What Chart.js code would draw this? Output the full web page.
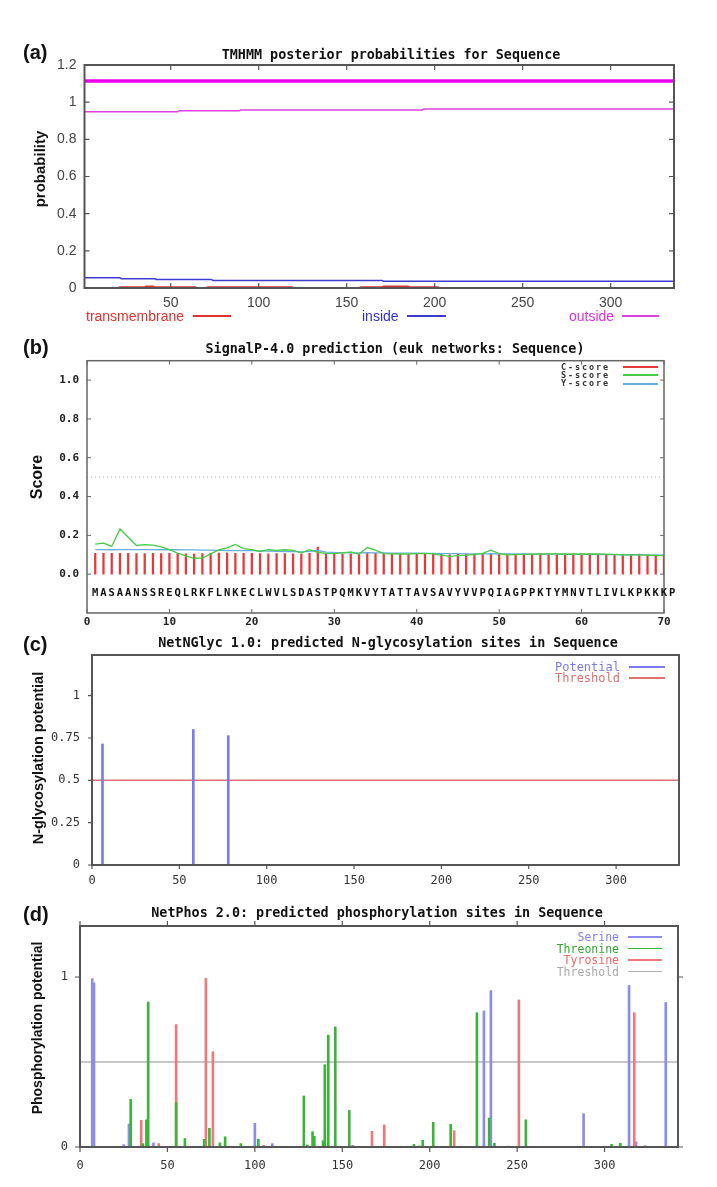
<!DOCTYPE html>
<html>
<head>
<meta charset="utf-8">
<script src="https://cdn.jsdelivr.net/npm/chart.js@4.4.1/dist/chart.umd.min.js"></script>
<style>
    body { margin: 0; background: #fff; width: 717px; height: 1187px; position: relative; overflow: hidden; font-family: "Liberation Sans", Arial, sans-serif; }
    canvas { position: absolute; left: 0; }
    .t { position: absolute; white-space: nowrap; line-height: 1; }
    .ttl { font: bold 13.4px "DejaVu Sans Mono", monospace; color: #111; transform: translate(-50%, -50%); }
    .lett { font: bold 20px "Liberation Sans", Arial, sans-serif; color: #111; left: 23px; transform: translateY(-50%); }
    .ylab { font: bold 15px "Liberation Sans", Arial, sans-serif; color: #111; transform: translate(-50%, -50%) rotate(-90deg); }
    .ln { position: absolute; height: 1.5px; }
    .legR { text-align: right; transform: translateY(-50%); }
    .legB { font: bold 8.5px "DejaVu Sans Mono", monospace; letter-spacing: 1.9px; color: #333; }
</style>
</head>
<body>
<canvas id="chartA" width="717" height="290" style="top:30px"></canvas>
<canvas id="chartB" width="717" height="300" style="top:330px"></canvas>
<canvas id="chartC" width="717" height="260" style="top:630px"></canvas>
<canvas id="chartD" width="717" height="297" style="top:890px"></canvas>

<!-- panel letters and titles -->
<div class="t lett" style="top:52px">(a)</div>
<div class="t lett" style="top:347px">(b)</div>
<div class="t lett" style="top:644px">(c)</div>
<div class="t lett" style="top:914px">(d)</div>

<div class="t ttl" style="left:391px;top:54px">TMHMM posterior probabilities for Sequence</div>
<div class="t ttl" style="left:395px;top:348px">SignalP-4.0 prediction (euk networks: Sequence)</div>
<div class="t ttl" style="left:388px;top:642px">NetNGlyc 1.0: predicted N-glycosylation sites in Sequence</div>
<div class="t ttl" style="left:377px;top:912px">NetPhos 2.0: predicted phosphorylation sites in Sequence</div>

<div class="t ylab" style="left:39px;top:169px">probability</div>
<div class="t ylab" style="left:37px;top:477px;font-size:16px">Score</div>
<div class="t ylab" style="left:38px;top:758px;font-size:14.5px">N-glycosylation potential</div>
<div class="t ylab" style="left:37px;top:1028px;font-size:14px">Phosphorylation potential</div>

<!-- legend (a) -->
<div class="t" style="left:86px;top:309px;font-size:14px;color:#e03030">transmembrane</div>
<div class="ln" style="left:193px;top:315px;width:38px;background:#e03030"></div>
<div class="t" style="left:362px;top:309px;font-size:14px;color:#3030d0">inside</div>
<div class="ln" style="left:407px;top:315px;width:39px;background:#3c3cd0"></div>
<div class="t" style="left:569px;top:309px;font-size:14px;color:#e030e0">outside</div>
<div class="ln" style="left:622px;top:315px;width:37px;background:#e040e0"></div>

<!-- legend (b) -->
<div class="t legR legB" style="right:107px;top:366.5px">C-score</div>
<div class="ln" style="left:623px;top:366px;width:35px;background:#e83838"></div>
<div class="t legR legB" style="right:107px;top:374.8px">S-score</div>
<div class="ln" style="left:623px;top:374.3px;width:35px;background:#44cc44"></div>
<div class="t legR legB" style="right:107px;top:383px">Y-score</div>
<div class="ln" style="left:623px;top:382.5px;width:35px;height:2px;background:#6aaee0"></div>

<!-- legend (c) -->
<div class="t legR" style="right:97px;top:667px;font:12px 'DejaVu Sans Mono',monospace;color:#7a7af0">Potential</div>
<div class="ln" style="left:629px;top:666px;width:36px;background:#7a7af0"></div>
<div class="t legR" style="right:97px;top:678px;font:12px 'DejaVu Sans Mono',monospace;color:#e07070">Threshold</div>
<div class="ln" style="left:629px;top:677px;width:36px;background:#e07070"></div>

<!-- legend (d) -->
<div class="t legR" style="right:98px;top:937px;font:11.5px 'DejaVu Sans Mono',monospace;color:#8080f0">Serine</div>
<div class="ln" style="left:628px;top:936px;width:34px;background:#8c8cf0"></div>
<div class="t legR" style="right:98px;top:948.5px;font:11.5px 'DejaVu Sans Mono',monospace;color:#30a830">Threonine</div>
<div class="ln" style="left:628px;top:947.5px;width:34px;background:#3cb43c"></div>
<div class="t legR" style="right:98px;top:960px;font:11.5px 'DejaVu Sans Mono',monospace;color:#f06868">Tyrosine</div>
<div class="ln" style="left:628px;top:959px;width:34px;background:#f07878"></div>
<div class="t legR" style="right:98px;top:971.5px;font:11.5px 'DejaVu Sans Mono',monospace;color:#aaa">Threshold</div>
<div class="ln" style="left:628px;top:970.5px;width:34px;background:#b4b4b4"></div>

<script>
// (a) TMHMM
const A_X_TICKS = [50, 100, 150, 200, 250, 300];
const A_Y_TICKS = [0, 0.2, 0.4, 0.6, 0.8, 1, 1.2];
const A_TOPO_X = [1, 336];
const A_TOPO_Y = [1.114, 1.114];
const A_OUT_X = [1, 54, 55, 89, 90, 193, 194, 336];
const A_OUT_Y = [0.948, 0.948, 0.954, 0.954, 0.958, 0.958, 0.963, 0.963];
const A_IN_X = [1, 21, 22, 41, 42, 73, 74, 170, 171, 336];
const A_IN_Y = [0.055, 0.055, 0.050, 0.050, 0.046, 0.046, 0.041, 0.041, 0.036, 0.036];
const A_TM_X = [1, 20, 21, 35, 36, 40, 41, 64, 65, 70, 71, 119, 120, 157, 158, 170, 171, 185, 186, 202, 203, 336];
const A_TM_Y = [0, 0, 0.005, 0.005, 0.009, 0.009, 0.005, 0.005, 0, 0, 0.005, 0.005, 0, 0, 0.005, 0.005, 0.009, 0.009, 0.005, 0.005, 0, 0];

// (b) SignalP, positions 1..70
const B_X_TICKS = [0, 10, 20, 30, 40, 50, 60, 70];
const B_Y_TICKS = [0, 0.2, 0.4, 0.6, 0.8, 1.0];
const B_SEQ = 'MASAANSSREQLRKFLNKECLWVLSDASTPQMKVYTATTAVSAVYVVPQIAGPPKTYMNVTLIVLKPKKKP'.split('');
const B_C_SCORE = [
    0.108, 0.107, 0.107, 0.108, 0.107, 0.106, 0.106, 0.107, 0.106, 0.108,
    0.107, 0.105, 0.104, 0.106, 0.108, 0.109, 0.110, 0.108, 0.108, 0.107,
    0.106, 0.105, 0.106, 0.106, 0.105, 0.104, 0.108, 0.140, 0.106, 0.104,
    0.104, 0.105, 0.103, 0.107, 0.108, 0.106, 0.104, 0.105, 0.103, 0.103,
    0.104, 0.108, 0.104, 0.100, 0.104, 0.105, 0.103, 0.104, 0.108, 0.104,
    0.102, 0.102, 0.103, 0.102, 0.101, 0.103, 0.102, 0.103, 0.102, 0.101,
    0.104, 0.103, 0.102, 0.101, 0.100, 0.101, 0.103, 0.100, 0.099, 0.100
];
const B_S_SCORE = [
    0.155, 0.160, 0.143, 0.233, 0.190, 0.148, 0.152, 0.150, 0.141, 0.127,
    0.108, 0.094, 0.082, 0.083, 0.105, 0.125, 0.136, 0.153, 0.132, 0.126,
    0.117, 0.126, 0.123, 0.126, 0.123, 0.110, 0.126, 0.112, 0.107, 0.106,
    0.110, 0.115, 0.103, 0.137, 0.124, 0.106, 0.105, 0.104, 0.103, 0.106,
    0.107, 0.105, 0.098, 0.092, 0.096, 0.098, 0.101, 0.107, 0.124, 0.106,
    0.100, 0.101, 0.102, 0.103, 0.104, 0.105, 0.105, 0.104, 0.105, 0.104,
    0.105, 0.104, 0.103, 0.102, 0.100, 0.100, 0.099, 0.098, 0.097, 0.096
];
const B_Y_SCORE = [
    0.127, 0.127, 0.126, 0.127, 0.127, 0.127, 0.127, 0.127, 0.126, 0.126,
    0.126, 0.125, 0.125, 0.124, 0.124, 0.123, 0.122, 0.121, 0.121, 0.121,
    0.120, 0.119, 0.118, 0.117, 0.116, 0.115, 0.118, 0.122, 0.114, 0.112,
    0.111, 0.110, 0.110, 0.111, 0.110, 0.110, 0.109, 0.109, 0.108, 0.108,
    0.107, 0.107, 0.106, 0.106, 0.106, 0.105, 0.105, 0.105, 0.106, 0.105,
    0.104, 0.104, 0.104, 0.103, 0.103, 0.103, 0.103, 0.102, 0.102, 0.102,
    0.102, 0.101, 0.101, 0.101, 0.100, 0.100, 0.099, 0.099, 0.098, 0.098
];
const B_CUTOFF = 0.5;

// (c) NetNGlyc
const C_X_TICKS = [0, 50, 100, 150, 200, 250, 300];
const C_Y_TICKS = [0, 0.25, 0.5, 0.75, 1];
const C_SITES = [6, 58, 78];
const C_POTENTIAL = [0.715, 0.80, 0.764];
const C_THRESHOLD = 0.5;

// (d) NetPhos
const D_X_TICKS = [0, 50, 100, 150, 200, 250, 300];
const D_Y_TICKS = [0, 1];
const D_SER_POS = [7, 8, 25, 28, 42, 100, 110, 156, 231, 235, 288, 314, 318, 335];
const D_SER_VAL = [0.99, 0.965, 0.014, 0.135, 0.024, 0.14, 0.02, 0.01, 0.80, 0.92, 0.196, 0.95, 0.03, 0.85];
const D_THR_POS = [29, 36, 38, 39, 55, 60, 71, 74, 80, 83, 92, 102, 128, 130, 133, 134, 139, 140, 142, 146, 154, 191, 194, 196, 202, 212, 227, 234, 237, 245, 255, 304, 309];
const D_THR_VAL = [0.28, 0.02, 0.16, 0.853, 0.263, 0.05, 0.045, 0.11, 0.024, 0.06, 0.02, 0.045, 0.30, 0.012, 0.09, 0.063, 0.037, 0.484, 0.658, 0.707, 0.215, 0.016, 0.006, 0.04, 0.145, 0.133, 0.79, 0.17, 0.022, 0.005, 0.16, 0.016, 0.022];
const D_TYR_POS = [35, 45, 55, 72, 76, 105, 167, 174, 214, 251, 317, 323];
const D_TYR_VAL = [0.157, 0.02, 0.72, 0.992, 0.56, 0.01, 0.092, 0.13, 0.096, 0.865, 0.79, 0.008];
const D_THRESHOLD = 0.5;

function zip(xs, ys) {
    return xs.map((x, i) => ({ x: x, y: ys[i] }));
}

function byPosition(vals) {
    return vals.map((v, i) => ({ x: i + 1, y: v }));
}

// gnuplot-like frame with small tick marks
const framePlugin = {
    id: 'frame',
    afterDatasetsDraw(chart, args, o) {
        const { ctx, chartArea: a, scales } = chart;
        const dir = o.inward ? 1 : -1;
        const L = o.tickLen;
        ctx.save();
        ctx.strokeStyle = o.color;
        ctx.lineWidth = o.width;
        ctx.strokeRect(a.left, a.top, a.right - a.left, a.bottom - a.top);
        ctx.lineWidth = o.tickWidth;
        ctx.beginPath();
        scales.x.ticks.forEach((t) => {
            const px = scales.x.getPixelForValue(t.value);
            ctx.moveTo(px, a.bottom);
            ctx.lineTo(px, a.bottom - dir * L);
            if (o.mirror) {
                ctx.moveTo(px, a.top);
                ctx.lineTo(px, a.top + dir * L);
            }
        });
        scales.y.ticks.forEach((t) => {
            const py = scales.y.getPixelForValue(t.value);
            ctx.moveTo(a.left, py);
            ctx.lineTo(a.left + dir * L, py);
            if (o.mirror) {
                ctx.moveTo(a.right, py);
                ctx.lineTo(a.right - dir * L, py);
            }
        });
        ctx.stroke();
        ctx.restore();
    }
};

// residue letters under the SignalP curves
const seqPlugin = {
    id: 'seqText',
    afterDatasetsDraw(chart, args, o) {
        if (!o.letters) {
            return;
        }
        const { ctx, scales } = chart;
        ctx.save();
        ctx.font = o.font;
        ctx.fillStyle = o.color;
        ctx.textAlign = 'center';
        ctx.textBaseline = 'middle';
        const py = scales.y.getPixelForValue(o.y);
        o.letters.forEach((ch, i) => {
            ctx.fillText(ch, scales.x.getPixelForValue(i + 1), py);
        });
        ctx.restore();
    }
};

function buildOptions(o) {
    return {
        responsive: false,
        animation: false,
        events: [],
        layout: { padding: { left: 0, right: o.padRight, top: o.padTop, bottom: o.padBottom } },
        plugins: {
            legend: { display: false },
            tooltip: { enabled: false },
            frame: o.frame,
            seqText: o.seq || {}
        },
        scales: {
            x: {
                type: 'linear',
                offset: false,
                min: o.xMin,
                max: o.xMax,
                grid: { display: false, drawTicks: false },
                border: { display: false },
                afterBuildTicks: (s) => { s.ticks = o.xTicks.map((v) => ({ value: v })); },
                afterFit: (s) => { s.height = o.xAxisH; },
                ticks: {
                    padding: o.xPad,
                    font: o.font,
                    color: o.tickColor,
                    maxRotation: 0,
                    autoSkip: false,
                    callback: (v) => String(v)
                }
            },
            y: {
                type: 'linear',
                min: o.yMin,
                max: o.yMax,
                grid: { display: false, drawTicks: false },
                border: { display: false },
                afterBuildTicks: (s) => { s.ticks = o.yTicks.map((v) => ({ value: v })); },
                afterFit: (s) => { s.width = o.yAxisW; },
                ticks: {
                    padding: o.yPad,
                    font: o.font,
                    color: o.tickColor,
                    autoSkip: false,
                    callback: o.yFmt
                }
            }
        }
    };
}

function lineSet(label, data, color, width, extra) {
    return Object.assign({
        type: 'line',
        label: label,
        data: data,
        borderColor: color,
        borderWidth: width,
        pointRadius: 0,
        fill: false,
        tension: 0
    }, extra || {});
}

function barSet(label, data, color, thickness, order) {
    return {
        type: 'bar',
        label: label,
        data: data,
        backgroundColor: color,
        borderWidth: 0,
        barThickness: thickness,
        grouped: false,
        order: order
    };
}

window.addEventListener('DOMContentLoaded', () => {
    const monoSmall = { family: 'DejaVu Sans Mono', size: 12 };

    new Chart(document.getElementById('chartA'), {
        type: 'line',
        data: {
            datasets: [
                lineSet('topology', zip(A_TOPO_X, A_TOPO_Y), '#ee00ee', 3.5),
                lineSet('outside', zip(A_OUT_X, A_OUT_Y), '#e040e0', 1.5),
                lineSet('inside', zip(A_IN_X, A_IN_Y), '#3c3cd0', 1.5),
                lineSet('transmembrane', zip(A_TM_X, A_TM_Y), '#e03030', 1.5)
            ]
        },
        options: buildOptions({
            padRight: 43, padTop: 35, padBottom: 8,
            xMin: 1, xMax: 336, yMin: 0, yMax: 1.2,
            xTicks: A_X_TICKS, yTicks: A_Y_TICKS,
            xAxisH: 24, yAxisW: 84.5, xPad: 7, yPad: 8,
            font: { family: 'Liberation Sans', size: 14 },
            tickColor: '#444',
            yFmt: (v) => String(Math.round(v * 10) / 10),
            frame: { color: '#555', width: 2, tickWidth: 1.2, tickLen: 5, inward: true, mirror: true }
        }),
        plugins: [framePlugin]
    });

    new Chart(document.getElementById('chartB'), {
        type: 'bar',
        data: {
            datasets: [
                lineSet('cutoff', zip([0, 70], [B_CUTOFF, B_CUTOFF]), '#c9a0dc', 1, { borderDash: [1, 3], order: 5 }),
                barSet('C-score', byPosition(B_C_SCORE), '#e83838', 1.6, 4),
                lineSet('Y-score', byPosition(B_Y_SCORE), '#6aaee0', 1.3, { order: 3 }),
                lineSet('S-score', byPosition(B_S_SCORE), '#44cc44', 1.3, { order: 2 })
            ]
        },
        options: buildOptions({
            padRight: 53, padTop: 30.7, padBottom: 0,
            xMin: 0, xMax: 70, yMin: -0.2, yMax: 1.1,
            xTicks: B_X_TICKS, yTicks: B_Y_TICKS,
            xAxisH: 17, yAxisW: 87, xPad: 3, yPad: 8,
            font: { family: 'DejaVu Sans Mono', size: 11, weight: 'bold' },
            tickColor: '#222',
            yFmt: (v) => v.toFixed(1),
            frame: { color: '#666', width: 1.5, tickWidth: 1, tickLen: 4, inward: true, mirror: true },
            seq: { letters: B_SEQ, y: -0.1, font: 'bold 10.5px "DejaVu Sans Mono"', color: '#111' }
        }),
        plugins: [framePlugin, seqPlugin]
    });

    new Chart(document.getElementById('chartC'), {
        type: 'bar',
        data: {
            datasets: [
                lineSet('Threshold', zip([0, 336], [C_THRESHOLD, C_THRESHOLD]), '#e07070', 1.5, { order: 5 }),
                barSet('Potential', zip(C_SITES, C_POTENTIAL), '#7a7af0', 2, 1)
            ]
        },
        options: buildOptions({
            padRight: 38, padTop: 25, padBottom: 0,
            xMin: 0, xMax: 336, yMin: 0, yMax: 1.24,
            xTicks: C_X_TICKS, yTicks: C_Y_TICKS,
            xAxisH: 25, yAxisW: 92, xPad: 9, yPad: 12,
            font: monoSmall,
            tickColor: '#333',
            yFmt: (v) => String(v),
            frame: { color: '#555', width: 2, tickWidth: 1.2, tickLen: 4, inward: false, mirror: false }
        }),
        plugins: [framePlugin]
    });

    new Chart(document.getElementById('chartD'), {
        type: 'bar',
        data: {
            datasets: [
                lineSet('Threshold', zip([0, 342], [D_THRESHOLD, D_THRESHOLD]), '#b4b4b4', 1.5, { order: 9 }),
                barSet('Serine', zip(D_SER_POS, D_SER_VAL), '#8c8cf0', 2, 3),
                barSet('Tyrosine', zip(D_TYR_POS, D_TYR_VAL), '#f07878', 2, 2),
                barSet('Threonine', zip(D_THR_POS, D_THR_VAL), '#3cb43c', 2, 1)
            ]
        },
        options: buildOptions({
            padRight: 39, padTop: 36, padBottom: 10,
            xMin: 0, xMax: 342, yMin: 0, yMax: 1.3,
            xTicks: D_X_TICKS, yTicks: D_Y_TICKS,
            xAxisH: 30, yAxisW: 80, xPad: 12, yPad: 12,
            font: monoSmall,
            tickColor: '#333',
            yFmt: (v) => String(v),
            frame: { color: '#555', width: 2, tickWidth: 1.2, tickLen: 5, inward: false, mirror: true }
        }),
        plugins: [framePlugin]
    });
});
</script>
</body>
</html>
